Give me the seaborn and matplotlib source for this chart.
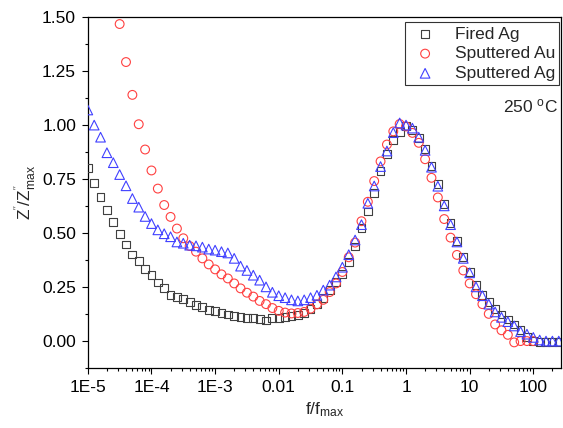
import numpy as np
import pandas as pd
import matplotlib
matplotlib.use("Agg")
import matplotlib.pyplot as plt
from matplotlib.ticker import LogLocator, FixedLocator, NullFormatter, FuncFormatter
import seaborn as sns

# log10(f/fmax) positions (10 points per decade)
logf_fired = [-5.0, -4.9, -4.8, -4.7, -4.6, -4.5, -4.4, -4.3, -4.2, -4.1,
              -4.0, -3.9, -3.8, -3.7, -3.6, -3.5, -3.4, -3.3, -3.2, -3.1,
              -3.0, -2.9, -2.8, -2.7, -2.6, -2.5, -2.4, -2.3, -2.2, -2.1,
              -2.0, -1.9, -1.8, -1.7, -1.6, -1.5, -1.4, -1.3, -1.2, -1.1,
              -1.0, -0.9, -0.8, -0.7, -0.6, -0.5, -0.4, -0.3, -0.2, -0.1,
              0.0, 0.1, 0.2, 0.3, 0.4, 0.5, 0.6, 0.7, 0.8, 0.9,
              1.0, 1.1, 1.2, 1.3, 1.4, 1.5, 1.6, 1.7, 1.8, 1.9,
              2.0, 2.1, 2.2, 2.3, 2.4]
z_fired = [0.800, 0.730, 0.668, 0.607, 0.553, 0.496, 0.447, 0.401, 0.369, 0.332,
           0.305, 0.271, 0.247, 0.212, 0.205, 0.195, 0.180, 0.168, 0.156, 0.145,
           0.140, 0.130, 0.123, 0.116, 0.110, 0.107, 0.105, 0.103, 0.095, 0.107,
           0.108, 0.112, 0.115, 0.120, 0.130, 0.150, 0.170, 0.200, 0.235, 0.275,
           0.312, 0.365, 0.438, 0.524, 0.600, 0.686, 0.786, 0.865, 0.933, 0.970,
           0.994, 0.979, 0.940, 0.888, 0.812, 0.727, 0.635, 0.547, 0.464, 0.390,
           0.320, 0.260, 0.215, 0.180, 0.150, 0.123, 0.100, 0.077, 0.050, 0.020,
           0.000, -0.005, -0.005, -0.005, -0.005]

logf_au = [-4.5, -4.4, -4.3, -4.2, -4.1, -4.0, -3.9, -3.8, -3.7, -3.6,
           -3.5, -3.4, -3.3, -3.2, -3.1, -3.0, -2.9, -2.8, -2.7, -2.6,
           -2.5, -2.4, -2.3, -2.2, -2.1, -2.0, -1.9, -1.8, -1.7, -1.6,
           -1.5, -1.4, -1.3, -1.2, -1.1, -1.0, -0.9, -0.8, -0.7, -0.6,
           -0.5, -0.4, -0.3, -0.2, -0.1, 0.0, 0.1, 0.2, 0.3, 0.4,
           0.5, 0.6, 0.7, 0.8, 0.9, 1.0, 1.1, 1.2, 1.3, 1.4,
           1.5, 1.6, 1.7, 1.8, 1.9, 2.0]
z_au = [1.468, 1.292, 1.140, 1.004, 0.887, 0.790, 0.706, 0.630, 0.575, 0.521,
        0.476, 0.440, 0.414, 0.383, 0.355, 0.332, 0.309, 0.290, 0.267, 0.244,
        0.224, 0.206, 0.186, 0.171, 0.153, 0.140, 0.132, 0.128, 0.130, 0.135,
        0.150, 0.170, 0.191, 0.227, 0.267, 0.320, 0.388, 0.456, 0.555, 0.645,
        0.741, 0.832, 0.910, 0.971, 1.005, 0.994, 0.964, 0.918, 0.842, 0.756,
        0.665, 0.565, 0.479, 0.399, 0.327, 0.267, 0.217, 0.171, 0.126, 0.077,
        0.050, 0.029, -0.006, 0.000, 0.000, 0.000]

logf_ag = logf_fired
z_ag = [1.070, 1.000, 0.944, 0.872, 0.826, 0.771, 0.719, 0.660, 0.620, 0.577,
        0.544, 0.515, 0.497, 0.483, 0.459, 0.453, 0.444, 0.441, 0.435, 0.426,
        0.421, 0.414, 0.408, 0.383, 0.347, 0.327, 0.305, 0.282, 0.251, 0.226,
        0.210, 0.201, 0.191, 0.186, 0.191, 0.201, 0.212, 0.236, 0.259, 0.297,
        0.342, 0.400, 0.468, 0.539, 0.638, 0.718, 0.808, 0.880, 0.965, 1.010,
        1.000, 0.986, 0.944, 0.883, 0.805, 0.717, 0.626, 0.539, 0.459, 0.383,
        0.316, 0.251, 0.210, 0.171, 0.135, 0.110, 0.090, 0.070, 0.044, 0.032,
        0.017, 0.005, 0.000, 0.000, 0.000]

series = [
    ("Fired Ag", logf_fired, z_fired, "s", "#404040"),
    ("Sputtered Au", logf_au, z_au, "o", "#ff4040"),
    ("Sputtered Ag", logf_ag, z_ag, "^", "#4040ff"),
]

sns.set_style("ticks")
plt.rcParams["font.family"] = ["Liberation Sans", "DejaVu Sans"]
plt.rcParams["mathtext.default"] = "regular"

fig = plt.figure(figsize=(5.63, 4.28), dpi=100)
ax = fig.add_axes([0.156, 0.140, 0.840, 0.820])

sizes = {"s": 32, "o": 40, "^": 48}
for name, lx, z, mk, col in series:
    df = pd.DataFrame({"f": 10.0 ** np.array(lx), "z": z})
    sns.scatterplot(data=df, x="f", y="z", marker=mk, s=sizes[mk],
                    facecolor="none", edgecolor=col, linewidth=0.8,
                    label=name, ax=ax, zorder=3)

ax.set_xscale("log")
ax.set_xlim(1e-5, 270)
ax.set_ylim(-0.1, 1.5)

ax.xaxis.set_major_locator(FixedLocator([1e-5, 1e-4, 1e-3, 1e-2, 1e-1, 1, 10, 100]))
ax.xaxis.set_major_formatter(FuncFormatter(
    lambda v, p: {1e-5: "1E-5", 1e-4: "1E-4", 1e-3: "1E-3", 1e-2: "0.01",
                  1e-1: "0.1", 1: "1", 10: "10", 100: "100"}.get(v, "")))
ax.xaxis.set_minor_locator(LogLocator(base=10, subs=np.arange(2, 10), numticks=20))
ax.xaxis.set_minor_formatter(NullFormatter())

ax.set_yticks([0.0, 0.25, 0.5, 0.75, 1.0, 1.25, 1.5])
ax.set_yticklabels(["0.00", "0.25", "0.50", "0.75", "1.00", "1.25", "1.50"])
ax.set_yticks([-0.125, 0.125, 0.375, 0.625, 0.875, 1.125, 1.375], minor=True)

ax.tick_params(which="both", direction="out", width=0.8, colors="black",
               labelsize=12.5, top=False, right=False)
ax.tick_params(which="major", length=4.5, pad=4)
ax.tick_params(which="minor", length=2.5)
for sp in ax.spines.values():
    sp.set_visible(True)
    sp.set_color("black")
    sp.set_linewidth(0.9)

ax.set_xlabel(r"$f/f_{max}$", fontsize=12.5, labelpad=4)
ax.set_ylabel(r"$Z^{''}/Z^{''}_{max}$", fontsize=12.5, labelpad=3)

leg = ax.legend(loc="upper right", bbox_to_anchor=(0.997, 0.986), borderaxespad=0,
                frameon=True, fancybox=False, edgecolor="black", fontsize=12.5,
                handletextpad=0.8, borderpad=0.25, labelspacing=0.26,
                handlelength=1.8)
leg.get_frame().set_linewidth(0.8)

ax.text(0.994, 0.745, r"250 $^{o}$C", transform=ax.transAxes,
        ha="right", va="center", fontsize=12.5)

fig.savefig("out.png", dpi=100)
